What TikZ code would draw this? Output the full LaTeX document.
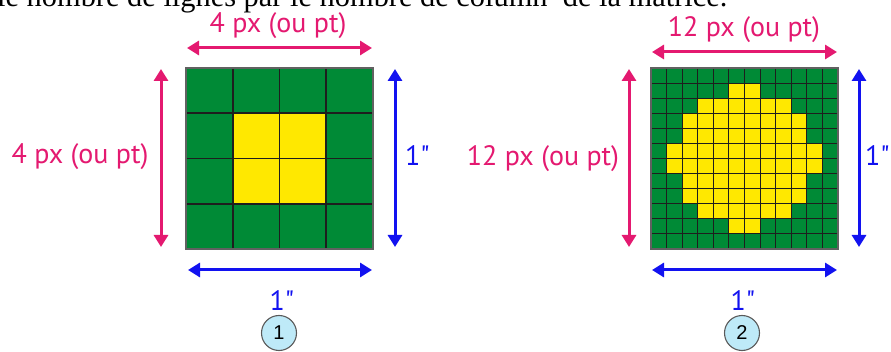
\documentclass[tikz,border=0pt]{standalone}
\usepackage{fontspec}
\setmainfont{Liberation Serif}
\newfontfamily\lblfont{PT Sans}
\newfontfamily\numfont{Liberation Sans}
\usetikzlibrary{arrows.meta}
\definecolor{pinkc}{RGB}{228,25,112}
\definecolor{bluec}{RGB}{18,18,240}
\definecolor{gridgreen}{RGB}{0,138,54}
\definecolor{gridyellow}{RGB}{255,232,0}
\definecolor{gridline}{RGB}{30,30,30}
\definecolor{circfill}{RGB}{190,234,248}
\definecolor{circline}{RGB}{90,90,90}
\begin{document}
\begin{tikzpicture}[x=1pt,y=-1pt,
  dimarrow/.style={line width=3pt,{Triangle[length=12pt,width=14pt]}-{Triangle[length=12pt,width=14pt]}},
  lbl/.style={inner sep=0, font=\lblfont\fontsize{28}{30}\selectfont},
  pinklbl/.style={lbl, text=pinkc},
  bluelbl/.style={lbl, text=bluec},
  cellline/.style={draw=gridline, line width=1.6pt},
  fineline/.style={draw=gridline, line width=1.1pt},
  numcirc/.style={circle, draw=circline, fill=circfill, line width=1.1pt, minimum size=35pt, inner sep=0, font=\numfont\fontsize{20}{22}\selectfont}]
\clip (0,0) rectangle (891,352);
\fill[white] (0,0) rectangle (891,352);

% top sentence (cut by the page edge, as in the reference)
\node[anchor=base west, inner sep=0, font=\fontsize{30.4}{36}\selectfont] (sentence) at (-3,7) {le nombre de lignes par le nombre de column\ \ de la matrice.};

% ---------- figure 1 ----------
\fill[gridgreen] (186,68) rectangle (373,249);
\fill[gridyellow] ({186+46.75},{68+45.25}) rectangle ({186+3*46.75},{68+3*45.25});
\foreach \i in {1,2,3} {
  \draw[cellline] ({186+\i*46.75},68) -- ({186+\i*46.75},249);
  \draw[cellline] (186,{68+\i*45.25}) -- (373,{68+\i*45.25});
}
\draw[draw=gridline!70, line width=1.2pt] (186,68) rectangle (373,249);

\coordinate (a1t1) at (187,48);  \coordinate (a1t2) at (372,48);
\coordinate (a1l1) at (161,69);  \coordinate (a1l2) at (161,247);
\coordinate (a1r1) at (395,69);  \coordinate (a1r2) at (395,247);
\coordinate (a1b1) at (188,270); \coordinate (a1b2) at (372,270);
\draw[dimarrow, pinkc] (a1t1) -- (a1t2);
\draw[dimarrow, pinkc] (a1l1) -- (a1l2);
\draw[dimarrow, bluec] (a1r1) -- (a1r2);
\draw[dimarrow, bluec] (a1b1) -- (a1b2);

\node[pinklbl, anchor=base] (l1top) at (278,33) {4 px (ou pt)};
\node[pinklbl, anchor=base] (l1left) at (80,164) {4 px (ou pt)};
\node[bluelbl, anchor=base west] (l1right) at (405,166) {1"};
\node[bluelbl, anchor=base] (l1bot) at (282,311) {1"};
\node[numcirc] (c1) at (279,333) {1};

% ---------- figure 2 ----------
\def\cw{15.5833}
\def\ch{15.0833}
\fill[gridgreen] (651,68) rectangle (838,249);
\foreach \r/\a/\b in {1/5/6,2/3/8,3/2/9,4/2/9,5/1/10,6/1/10,7/2/9,8/2/9,9/3/8,10/5/6}
  \fill[gridyellow] ({651+\a*\cw},{68+\r*\ch}) rectangle ({651+(\b+1)*\cw},{68+(\r+1)*\ch});
\foreach \i in {1,...,11} {
  \draw[fineline] ({651+\i*\cw},68) -- ({651+\i*\cw},249);
  \draw[fineline] (651,{68+\i*\ch}) -- (838,{68+\i*\ch});
}
\draw[draw=gridline!70, line width=1.2pt] (651,68) rectangle (838,249);

\coordinate (a2t1) at (652,52);  \coordinate (a2t2) at (837,52);
\coordinate (a2l1) at (629,69);  \coordinate (a2l2) at (629,247);
\coordinate (a2r1) at (859,69);  \coordinate (a2r2) at (859,247);
\coordinate (a2b1) at (652,270); \coordinate (a2b2) at (837,270);
\draw[dimarrow, pinkc] (a2t1) -- (a2t2);
\draw[dimarrow, pinkc] (a2l1) -- (a2l2);
\draw[dimarrow, bluec] (a2r1) -- (a2r2);
\draw[dimarrow, bluec] (a2b1) -- (a2b2);

\node[pinklbl, anchor=base] (l2top) at (744,37) {12 px (ou pt)};
\node[pinklbl, anchor=base] (l2left) at (543,166) {12 px (ou pt)};
\node[bluelbl, anchor=base east] (l2right) at (890,166) {1"};
\node[bluelbl, anchor=base] (l2bot) at (743,311) {1"};
\node[numcirc] (c2) at (742,333) {2};
\end{tikzpicture}
\end{document}
